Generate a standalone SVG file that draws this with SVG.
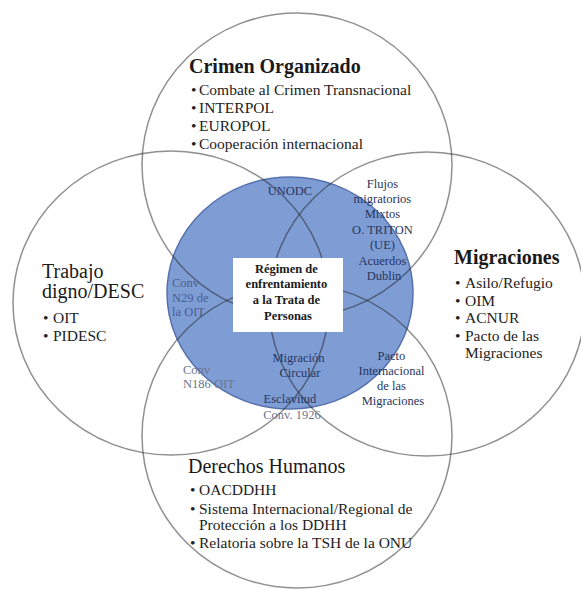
<svg xmlns="http://www.w3.org/2000/svg" width="581" height="590" viewBox="0 0 581 590">
  <style>
    text { font-family: "Liberation Serif", "Times New Roman", serif; fill: #1a1a1a; }
    .head { font-size: 20px; }
    .bold { font-weight: bold; }
    .item { font-size: 15.5px; fill: #222; }
    .small { font-size: 12.5px; }
    .mid { text-anchor: middle; }
    .navy { fill: #27355e; }
    .slate { fill: #4a5d8e; }
    .grey { fill: #6b7590; }
    .ring { fill: none; stroke: #222; stroke-opacity: 0.5; stroke-width: 1.5; }
    .core { fill: #7f9dd5; stroke: #5571ad; stroke-width: 1.5; }
  </style>

  <!-- shared centre region -->
  <g id="regimen-area">
    <ellipse class="core" cx="290" cy="293" rx="123" ry="116"/>
  </g>

  <!-- outlines of the four domains -->
  <g id="connectors">
    <ellipse class="ring" cx="297" cy="165" rx="155" ry="152"/>
    <ellipse class="ring" cx="171" cy="303" rx="158" ry="152"/>
    <ellipse class="ring" cx="427" cy="304" rx="158" ry="152"/>
    <ellipse class="ring" cx="297" cy="436" rx="155" ry="152"/>
  </g>

  <g id="crimen-organizado">
    <text class="head bold" x="189" y="73">Crimen Organizado</text>
    <text class="item"><tspan x="191" y="95">•</tspan><tspan x="199" y="95">Combate al Crimen Transnacional</tspan></text>
    <text class="item"><tspan x="191" y="113">•</tspan><tspan x="199" y="113">INTERPOL</tspan></text>
    <text class="item"><tspan x="191" y="131">•</tspan><tspan x="199" y="131">EUROPOL</tspan></text>
    <text class="item"><tspan x="191" y="149">•</tspan><tspan x="199" y="149">Cooperación internacional</tspan></text>
  </g>

  <g id="trabajo-digno">
    <text class="head" x="42" y="278">Trabajo</text>
    <text class="head" x="42" y="298">digno/DESC</text>
    <text class="item"><tspan x="43" y="323">•</tspan><tspan x="53" y="323">OIT</tspan></text>
    <text class="item"><tspan x="43" y="341">•</tspan><tspan x="53" y="341">PIDESC</tspan></text>
  </g>

  <g id="migraciones">
    <text class="head bold" x="454" y="264">Migraciones</text>
    <text class="item"><tspan x="455" y="288">•</tspan><tspan x="465" y="288">Asilo/Refugio</tspan></text>
    <text class="item"><tspan x="455" y="306">•</tspan><tspan x="465" y="306">OIM</tspan></text>
    <text class="item"><tspan x="455" y="323">•</tspan><tspan x="465" y="323">ACNUR</tspan></text>
    <text class="item"><tspan x="455" y="341">•</tspan><tspan x="465" y="341">Pacto de las</tspan></text>
    <text class="item" x="465" y="358">Migraciones</text>
  </g>

  <g id="derechos-humanos">
    <text class="head" x="188" y="473">Derechos Humanos</text>
    <text class="item"><tspan x="190" y="495">•</tspan><tspan x="199" y="495">OACDDHH</tspan></text>
    <text class="item"><tspan x="190" y="514">•</tspan><tspan x="199" y="514">Sistema Internacional/Regional de</tspan>
      <tspan x="199" y="530">Protección a los DDHH</tspan></text>
    <text class="item"><tspan x="190" y="548">•</tspan><tspan x="199" y="548">Relatoria sobre la TSH de la ONU</tspan></text>
  </g>

  <!-- overlap labels -->
  <g id="unodc">
    <text class="small mid navy" x="290" y="195">UNODC</text>
  </g>
  <g id="flujos">
    <text class="small mid navy">
      <tspan x="384" y="188">Flujos</tspan>
      <tspan x="384" y="203">migratorios</tspan>
      <tspan x="384" y="218">Mixtos</tspan>
      <tspan x="384" y="234">O. TRITON</tspan>
      <tspan x="384" y="249">(UE)</tspan>
      <tspan x="384" y="265">Acuerdos</tspan>
      <tspan x="384" y="280">Dublin</tspan>
    </text>
  </g>
  <g id="conv-n29">
    <text class="small slate">
      <tspan x="172" y="287">Conv</tspan>
      <tspan x="172" y="302">N29 de</tspan>
      <tspan x="172" y="316">la OIT</tspan>
    </text>
  </g>
  <g id="conv-n186">
    <text class="small grey">
      <tspan x="183" y="374">Conv</tspan>
      <tspan x="183" y="388">N186 OIT</tspan>
    </text>
  </g>
  <g id="migracion-circular">
    <text class="small mid navy">
      <tspan x="300" y="362">Migración</tspan>
      <tspan x="300" y="377">Circular</tspan>
    </text>
  </g>
  <g id="esclavitud">
    <text class="small mid navy" x="290" y="403">Esclavitud</text>
    <text class="small mid grey" x="292" y="419">Conv. 1926</text>
  </g>
  <g id="pacto-internacional">
    <text class="small mid navy">
      <tspan x="393" y="360">Pacto</tspan>
      <tspan x="393" y="375">Internacional</tspan>
      <tspan x="393" y="390">de las</tspan>
      <tspan x="393" y="405">Migraciones</tspan>
    </text>
  </g>

  <!-- central label box -->
  <g id="regimen">
    <rect x="233" y="258" width="110" height="74" fill="#ffffff"/>
    <text class="small bold mid">
      <tspan x="288" y="273">Régimen de</tspan>
      <tspan x="288" y="288">enfrentamiento</tspan>
      <tspan x="288" y="304">a la Trata de</tspan>
      <tspan x="288" y="320">Personas</tspan>
    </text>
  </g>
</svg>
